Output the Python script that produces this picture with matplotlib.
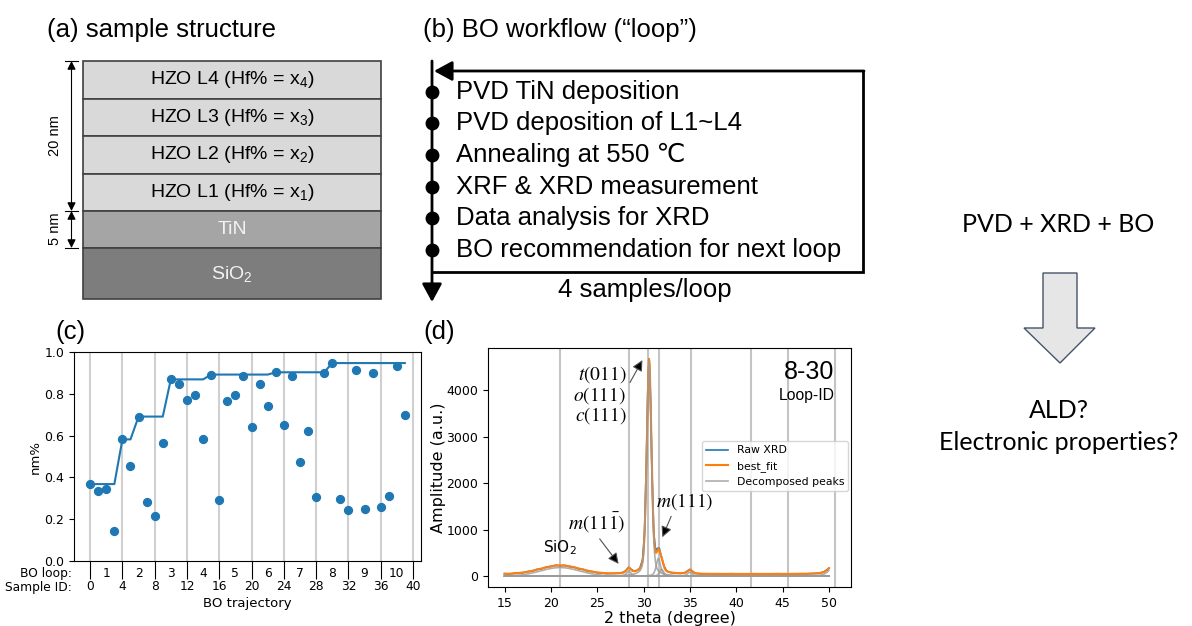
import numpy as np
import matplotlib
matplotlib.use("Agg")
import matplotlib.pyplot as plt
from matplotlib.patches import Rectangle, Polygon

plt.rcParams["mathtext.fontset"] = "custom"
plt.rcParams["mathtext.rm"] = "Liberation Sans"
plt.rcParams["mathtext.it"] = "Liberation Sans:italic"
plt.rcParams["mathtext.bf"] = "Liberation Sans:bold"

# (a) film stack, top to bottom
layer_names = ["HZO L4 (Hf% = x$_4$)", "HZO L3 (Hf% = x$_3$)",
               "HZO L2 (Hf% = x$_2$)", "HZO L1 (Hf% = x$_1$)",
               "TiN", "SiO$_2$"]

# (b) steps of one BO loop
loop_steps = ["PVD TiN deposition", "PVD deposition of L1~L4",
              "Annealing at 550 \u2103", "XRF & XRD measurement",
              "Data analysis for XRD", "BO recommendation for next loop"]

# (c) nm% of every sample along the BO trajectory
sample_id = np.arange(40)
nm_frac = [0.368, 0.335, 0.346, 0.145, 0.582, 0.455, 0.691, 0.284, 0.214, 0.563,
           0.869, 0.848, 0.769, 0.793, 0.584, 0.892, 0.293, 0.764, 0.796, 0.884,
           0.641, 0.848, 0.743, 0.903, 0.649, 0.887, 0.472, 0.624, 0.308, 0.900,
           0.947, 0.295, 0.244, 0.914, 0.249, 0.901, 0.257, 0.309, 0.931, 0.699]
sample_ticks = list(range(0, 41, 4))
loop_ids = list(range(1, 11))

# (d) XRD of sample 8-30
raw_2theta = [15.0, 15.5, 16.0, 16.5, 17.0, 17.5, 18.0, 18.5, 19.0, 19.5,
              20.0, 20.5, 21.0, 21.5, 22.0, 22.5, 23.0, 23.5, 24.0, 24.5,
              25.0, 25.5, 26.0, 26.5, 27.0, 27.5, 27.8, 28.1, 28.4, 28.7,
              29.0, 29.3, 29.6, 29.9, 30.1, 30.3, 30.45, 30.6, 30.75, 30.9,
              31.1, 31.3, 31.5, 31.7, 31.9, 32.2, 32.5, 33.0, 33.5, 34.0,
              34.5, 34.8, 35.0, 35.3, 35.6, 36.0, 36.5, 37.0, 37.5, 38.0,
              38.5, 39.0, 39.5, 40.0, 40.5, 41.0, 41.5, 42.0, 42.5, 43.0,
              43.5, 44.0, 44.5, 45.0, 45.5, 46.0, 46.5, 47.0, 47.5, 48.0,
              48.5, 49.0, 49.5, 50.0]
raw_amp = [55, 47, 60, 72, 74, 99, 108, 146, 158, 196,
           206, 234, 224, 232, 203, 194, 158, 144, 106, 97,
           72, 68, 54, 56, 60, 70, 82, 120, 190, 140,
           108, 125, 170, 360, 920, 2420, 3950, 4680, 3820, 2300,
           940, 550, 600, 600, 440, 225, 105, 74, 66, 60,
           78, 120, 145, 100, 60, 52, 48, 50, 46, 51,
           47, 49, 52, 47, 50, 46, 49, 51, 48, 50,
           47, 49, 52, 48, 46, 50, 49, 51, 47, 54,
           58, 66, 94, 172]

# fitted pseudo-Voigt components
peak_centre = [21.0, 28.4, 30.6, 31.6, 31.95, 35.0, 50.8]
peak_height = [185, 110, 4600, 380, 150, 85, 300]
peak_fwhm = [5.0, 0.55, 0.6, 0.55, 0.5, 0.6, 1.4]
peak_eta = [0.0, 0.5, 0.3, 0.5, 0.5, 0.5, 0.5]
fit_background = 45
ref_lines = [21.0, 28.4, 30.5, 31.7, 35.1, 41.6, 45.6, 50.6]


def pseudo_voigt(x, centre, height, fwhm, eta):
    dx = (x - centre) / (fwhm / 2)
    return height * (eta / (1 + dx ** 2) + (1 - eta) * np.exp(-np.log(2) * dx ** 2))


W, H = 1192, 626
fig = plt.figure(figsize=(W / 100, H / 100), dpi=100)

# drawing layer in pixel units for the sketches and panel letters
canvas = fig.add_axes([0, 0, 1, 1])
canvas.set_xlim(0, W)
canvas.set_ylim(H, 0)
canvas.axis("off")
sans = ["Liberation Sans", "DejaVu Sans"]

# ---- (a) sample structure ----
canvas.text(47, 30, "(a) sample structure", fontsize=18.5, family=sans, va="center")
heights = [37.5, 37.5, 37.5, 37.5, 37, 51]
fills = ["#d9d9d9"] * 4 + ["#a5a5a5", "#7d7d7d"]
inks = ["black"] * 4 + ["#f2f2f2", "#f2f2f2"]
y = 61
for name, h, fc, tc in zip(layer_names, heights, fills, inks):
    canvas.add_patch(Rectangle((83, y), 298, h, facecolor=fc, edgecolor="#404040", lw=1.2))
    canvas.text(232, y + h / 2, name, fontsize=14, family=sans, color=tc,
                ha="center", va="center")
    y += h

dim = dict(arrowstyle="<|-|>,head_length=0.5,head_width=0.25", color="black",
           lw=0.8, mutation_scale=10, shrinkA=0, shrinkB=0)
canvas.annotate("", xy=(71.5, 61), xytext=(71.5, 211), arrowprops=dim)
canvas.annotate("", xy=(71.5, 211), xytext=(71.5, 248), arrowprops=dim)
for yc in (61, 211, 248):
    canvas.plot([65, 78], [yc, yc], color="black", lw=0.8)
canvas.text(55, 136, "20 nm", rotation=90, fontsize=10.5, family=sans, ha="center", va="center")
canvas.text(55, 229, "5 nm", rotation=90, fontsize=10.5, family=sans, ha="center", va="center")

# ---- (b) BO workflow ----
canvas.text(423, 30, "(b) BO workflow (\u201cloop\u201d)", fontsize=18.5, family=sans, va="center")
head = dict(arrowstyle="-|>,head_length=0.55,head_width=0.3", color="black",
            lw=2, mutation_scale=20, shrinkA=0, shrinkB=0)
canvas.annotate("", xy=(432, 302), xytext=(432, 61), arrowprops=head)
canvas.plot([863, 863, 432], [71, 272, 272], color="black", lw=2, solid_joinstyle="miter")
canvas.annotate("", xy=(434, 71), xytext=(864, 71), arrowprops=head)
for i, step in enumerate(loop_steps):
    yc = 91.7 + i * 31.67
    canvas.plot(432, yc, "o", color="black", ms=9)
    canvas.text(456, yc, step, fontsize=18.5, family=sans, va="center")
canvas.text(645, 290, "4 samples/loop", fontsize=18.5, family=sans, ha="center", va="center")

# ---- right-hand outlook ----
canvas.text(1058, 225, "PVD + XRD + BO", fontsize=18, family="Lato", ha="center", va="center")
canvas.add_patch(Polygon([(1043, 273), (1077, 273), (1077, 328), (1095, 328),
                          (1060, 363), (1024, 328), (1043, 328)],
                         closed=True, facecolor="#e7e6e6", edgecolor="#44546a", lw=1))
canvas.text(1059, 410, "ALD?", fontsize=18, family="Lato", ha="center", va="center")
canvas.text(1059, 442, "Electronic properties?", fontsize=18, family="Lato", ha="center", va="center")

canvas.text(55, 332, "(c)", fontsize=18.5, family=sans, va="center")
canvas.text(423, 332, "(d)", fontsize=18.5, family=sans, va="center")

# ---- (c) BO trajectory ----
ax_c = fig.add_axes([74 / W, 1 - 561 / H, 347 / W, 209 / H])
best_so_far = np.maximum.accumulate(nm_frac)
ax_c.plot(sample_id, best_so_far, color="C0", lw=1.5)
ax_c.scatter(sample_id, nm_frac, color="C0", s=32, zorder=3)
ax_c.set_xlim(-2, 41)
ax_c.set_ylim(0, 1)
ax_c.set_xticks(sample_ticks)
ax_c.set_xticklabels([str(t) for t in sample_ticks])
loop_centres = [(a + b) / 2 for a, b in zip(sample_ticks[:-1], sample_ticks[1:])]
ax_c.set_xticks(loop_centres, minor=True)
ax_c.set_xticklabels([str(n) for n in loop_ids], minor=True)
ax_c.tick_params(axis="x", which="major", length=13, pad=0.5, labelsize=8.8)
ax_c.tick_params(axis="x", which="minor", length=0, pad=4.2, labelsize=8.8)
ax_c.tick_params(axis="y", labelsize=9)
ax_c.grid(axis="x", which="major", color="#d0d0d0", lw=1.5)
ax_c.set_axisbelow(True)
ax_c.set_ylabel("nm%", fontsize=9.5, labelpad=1.5)
ax_c.set_xlabel("BO trajectory", fontsize=9.5, labelpad=3)
canvas.text(72, 574, "BO loop:", fontsize=8.8, ha="right", va="center")
canvas.text(72, 587, "Sample ID:", fontsize=8.8, ha="right", va="center")

# ---- (d) XRD with peak decomposition ----
ax_d = fig.add_axes([488 / W, 1 - 587 / H, 363 / W, 239 / H])
grid = np.linspace(15, 50, 1401)
components = [pseudo_voigt(grid, c, h, w, e)
              for c, h, w, e in zip(peak_centre, peak_height, peak_fwhm, peak_eta)]
best_fit = np.sum(components, axis=0) + fit_background

for x in ref_lines:
    ax_d.axvline(x, color="#c4c4c4", lw=1.5, zorder=0)
ax_d.plot(raw_2theta, raw_amp, color="C0", lw=1.2, label="Raw XRD")
ax_d.plot(grid, best_fit, color="C1", lw=1.5, label="best_fit")
for i, comp in enumerate(components):
    ax_d.plot(grid, comp, color="#9a9a9a", alpha=0.8, lw=1.2,
              label="Decomposed peaks" if i == 0 else None)

ax_d.set_xticks(range(15, 51, 5))
ax_d.set_yticks(range(0, 4001, 1000))
ax_d.tick_params(labelsize=9)
ax_d.set_xlabel("2 theta (degree)", fontsize=11.5, labelpad=1)
ax_d.set_ylabel("Amplitude (a.u.)", fontsize=11.5, labelpad=0)
ax_d.legend(loc="upper right", bbox_to_anchor=(0.993, 0.611), borderaxespad=0, fontsize=7.8)

ax_d.text(0.953, 0.9, "8-30", transform=ax_d.transAxes, fontsize=18, family=sans,
          ha="right", va="center")
ax_d.text(0.955, 0.803, "Loop-ID", transform=ax_d.transAxes, fontsize=11.3, family=sans,
          ha="right", va="center")

arrow = dict(arrowstyle="-|>,head_length=0.4,head_width=0.2", ec="#505050", fc="black",
             lw=0.8, mutation_scale=16, shrinkA=1, shrinkB=1)
ax_d.annotate("$t(011)$\n$o(111)$\n$c(111)$", xy=(29.95, 4680), xytext=(25.3, 3900),
              fontsize=14, math_fontfamily="stix", ha="center", va="center",
              multialignment="right", linespacing=1.0,
              arrowprops=dict(arrow, relpos=(1.0, 0.6)))
ax_d.annotate(r"$m(11\bar{1})$", xy=(27.4, 240), xytext=(24.95, 1150),
              fontsize=14, math_fontfamily="stix", ha="center", va="center",
              arrowprops=dict(arrow, relpos=(0.5, 0.0)))
ax_d.annotate("$m(111)$", xy=(31.97, 810), xytext=(34.4, 1600),
              fontsize=14, math_fontfamily="stix", ha="center", va="center",
              arrowprops=dict(arrow, relpos=(0.3, 0.0)))
ax_d.text(20.95, 607, "SiO$_2$", fontsize=11, math_fontfamily="dejavusans",
          ha="center", va="center")

fig.savefig("out.png", dpi=100)
